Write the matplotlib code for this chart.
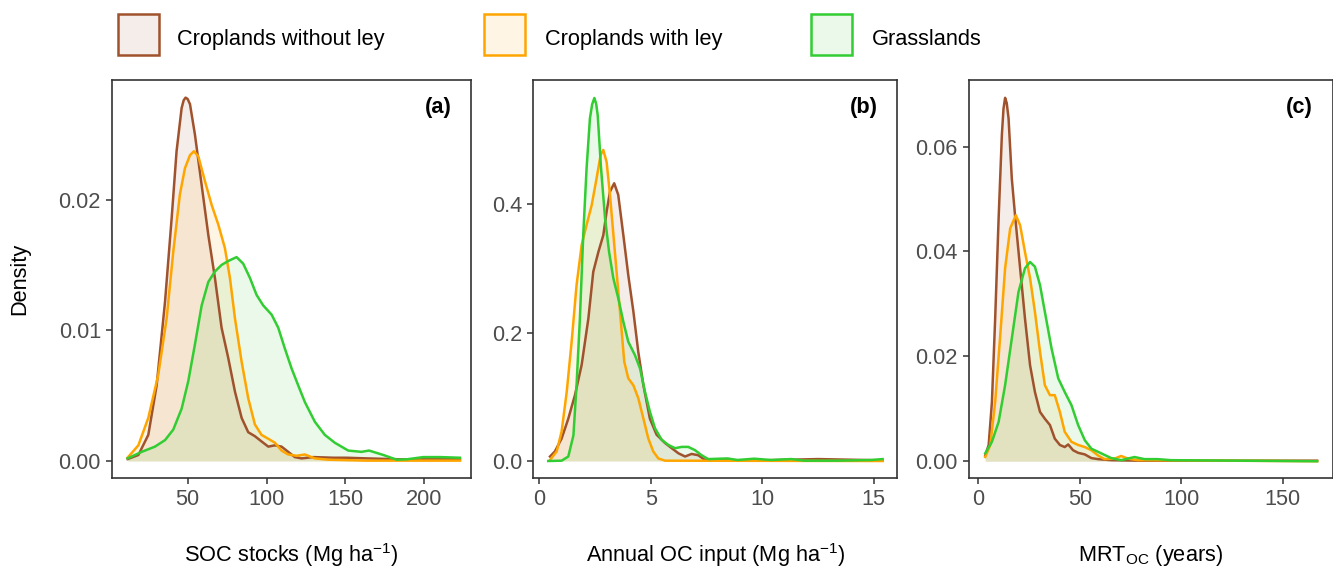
import matplotlib
matplotlib.use('Agg')
import matplotlib.pyplot as plt
from matplotlib.patches import Rectangle

plt.rcParams['font.family'] = ['Liberation Sans', 'DejaVu Sans']
plt.rcParams['mathtext.default'] = 'regular'

groups = ['Croplands without ley', 'Croplands with ley', 'Grasslands']
colors = ['#A0522D', '#FFA500', '#32CD32']

# (a) SOC stocks, density curves
soc_x_noley = [12, 18.8, 25.1, 30.4, 35.7, 39.9, 43.0, 46.2, 47.5, 48.7, 50.0, 51.5, 54.6, 58.9,
               63.1, 67.3, 71.5, 75.7, 80.0, 84.2, 88.4, 92.6, 96.8, 101.1, 105.3, 109.5, 113.7,
               117.9, 122.2, 129.6, 142.3, 150.7, 163.4, 184.5, 222.5]
soc_y_noley = [0.00015, 0.00046, 0.002, 0.0058, 0.0122, 0.0186, 0.0237, 0.0270, 0.0276, 0.0278,
               0.0277, 0.0273, 0.0250, 0.0211, 0.0173, 0.0140, 0.0102, 0.0079, 0.0053, 0.0033,
               0.0022, 0.0019, 0.0015, 0.0011, 0.0012, 0.0011, 0.0007, 0.0003, 0.0002, 0.0003,
               0.00025, 0.00025, 0.0002, 0.00013, 0.00013]
soc_x_ley = [12, 18.8, 25.1, 31.4, 36.7, 40.9, 45.1, 48.3, 51.5, 54.0, 56.8, 61.0, 65.2, 69.4,
             73.6, 76.8, 80.0, 84.2, 88.4, 92.6, 96.8, 101.1, 105.3, 109.5, 113.7, 119.0, 124.3,
             130.6, 139.0, 163.4, 222.5]
soc_y_ley = [0.00026, 0.0012, 0.0033, 0.0066, 0.0109, 0.0160, 0.0204, 0.0224, 0.0234, 0.0237,
             0.0233, 0.0214, 0.0196, 0.0181, 0.0163, 0.0140, 0.0109, 0.0076, 0.0048, 0.0028,
             0.0020, 0.0017, 0.0014, 0.0008, 0.0005, 0.0004, 0.0005, 0.0002, 0.0001, 0.00003,
             0.00003]
soc_x_grass = [12, 20.9, 29.3, 35.7, 40.9, 46.2, 50.4, 54.6, 58.9, 63.1, 67.3, 71.5, 75.7, 81.0,
               85.2, 89.5, 93.7, 97.9, 103.2, 107.4, 111.6, 115.8, 120.0, 124.3, 130.6, 136.9,
               143.2, 151.7, 160.1, 164.9, 174.0, 182.4, 188.8, 199.3, 209.9, 222.5]
soc_y_grass = [0.0002, 0.0007, 0.0011, 0.0016, 0.0024, 0.0040, 0.0061, 0.0089, 0.0119, 0.0137,
               0.0145, 0.0150, 0.0153, 0.0156, 0.0151, 0.0140, 0.0127, 0.0119, 0.0112, 0.0102,
               0.0086, 0.0071, 0.0058, 0.0045, 0.0030, 0.0020, 0.0014, 0.0008, 0.0007, 0.0008,
               0.00046, 0.0001, 0.00013, 0.0003, 0.0003, 0.00025]

# (b) Annual OC input
oc_x_noley = [0.48, 0.70, 1.0, 1.30, 1.60, 1.90, 2.20, 2.42, 2.65, 2.87, 3.02, 3.17, 3.36, 3.54,
              3.77, 3.99, 4.22, 4.44, 4.67, 4.96, 5.26, 5.64, 5.94, 6.24, 6.54, 6.83, 7.13, 7.43,
              8.5, 10.0, 12.5, 15.4]
oc_y_noley = [0.007, 0.015, 0.035, 0.066, 0.103, 0.150, 0.222, 0.295, 0.326, 0.352, 0.389, 0.420,
              0.433, 0.415, 0.352, 0.290, 0.233, 0.170, 0.118, 0.066, 0.041, 0.028, 0.020, 0.012,
              0.007, 0.011, 0.009, 0.0016, 0.001, 0.001, 0.003, 0.001]
oc_x_ley = [0.48, 0.78, 1.0, 1.23, 1.45, 1.67, 1.90, 2.12, 2.35, 2.57, 2.75, 2.87, 3.02, 3.17,
            3.39, 3.62, 3.81, 3.99, 4.22, 4.44, 4.67, 4.89, 5.11, 5.34, 5.64, 15.4]
oc_y_ley = [0.0016, 0.015, 0.046, 0.108, 0.186, 0.274, 0.337, 0.368, 0.399, 0.441, 0.477, 0.485,
            0.466, 0.415, 0.326, 0.233, 0.155, 0.129, 0.118, 0.098, 0.066, 0.035, 0.015, 0.004,
            0.0005, 0.0]
oc_x_grass = [0.40, 1.0, 1.30, 1.53, 1.67, 1.82, 1.97, 2.12, 2.27, 2.37, 2.47, 2.55, 2.62, 2.77,
              2.95, 3.13, 3.32, 3.54, 3.77, 3.99, 4.29, 4.52, 4.74, 4.96, 5.19, 5.49, 5.79, 6.09,
              6.39, 6.68, 6.98, 7.28, 7.58, 8.44, 8.89, 9.64, 10.4, 11.3, 11.9, 13.4, 14.9, 15.4]
oc_y_grass = [0.0, 0.0005, 0.007, 0.04, 0.118, 0.222, 0.352, 0.456, 0.534, 0.556, 0.566, 0.557,
              0.539, 0.456, 0.378, 0.326, 0.285, 0.254, 0.217, 0.186, 0.165, 0.144, 0.108, 0.077,
              0.051, 0.033, 0.025, 0.020, 0.022, 0.022, 0.017, 0.009, 0.003, 0.004, 0.0016,
              0.0036, 0.0016, 0.003, 0.0005, 0.0005, 0.0016, 0.003]

# (c) MRT_OC
mrt_x_noley = [3.4, 5.1, 6.7, 8.3, 10.0, 11.6, 12.4, 13.2, 14.0, 14.9, 16.5, 18.1, 20.6, 23.0,
               25.5, 27.9, 30.4, 32.8, 35.3, 37.7, 40.2, 42.6, 44.3, 46.7, 49.2, 52.5, 55.7,
               59.0, 65.5, 80.0, 167]
mrt_y_noley = [0.0011, 0.0031, 0.0113, 0.0272, 0.0463, 0.0622, 0.0672, 0.0693, 0.0683, 0.0654,
               0.0539, 0.0469, 0.0368, 0.0272, 0.0183, 0.0132, 0.0094, 0.0081, 0.0069, 0.0043,
               0.0031, 0.0027, 0.0032, 0.0021, 0.0016, 0.0013, 0.0006, 0.0004, 0.0002, 0.0001,
               0.0001]
mrt_x_ley = [3.4, 5.9, 8.3, 10.8, 13.2, 15.7, 18.5, 20.6, 23.0, 25.5, 27.9, 30.4, 32.8, 35.3,
             37.7, 40.2, 42.6, 45.9, 49.2, 52.5, 55.7, 59.0, 62.3, 67.2, 70.4, 73.7, 78.6, 167]
mrt_y_ley = [0.0008, 0.0031, 0.0113, 0.0240, 0.0368, 0.0444, 0.0469, 0.0450, 0.0399, 0.0349,
             0.0285, 0.0209, 0.0145, 0.0126, 0.0126, 0.0094, 0.0056, 0.0037, 0.0031, 0.0027,
             0.0021, 0.0011, 0.0004, 0.0005, 0.0010, 0.0005, 0.0002, 0.0]
mrt_x_grass = [3.4, 6.7, 10.0, 13.2, 16.5, 19.8, 23.0, 25.5, 27.9, 30.4, 32.8, 36.1, 39.4, 42.6,
               45.9, 49.2, 52.5, 55.7, 60.6, 65.5, 70.4, 77.0, 81.9, 88.4, 94.9, 167]
mrt_y_grass = [0.0015, 0.0037, 0.0075, 0.0145, 0.0234, 0.0323, 0.0368, 0.0380, 0.0371, 0.0336,
               0.0285, 0.0215, 0.0158, 0.0132, 0.0107, 0.0069, 0.0040, 0.0024, 0.0015, 0.0006,
               0.0002, 0.0008, 0.0004, 0.0004, 0.0002, 0.0]

panels = [
    ('(a)', r'SOC stocks (Mg ha$^{-1}$)',
     [(soc_x_noley, soc_y_noley), (soc_x_ley, soc_y_ley), (soc_x_grass, soc_y_grass)],
     (2.1, 229.5), (-0.0013, 0.02915), [50, 100, 150, 200], [0.0, 0.01, 0.02], '{:.2f}'),
    ('(b)', r'Annual OC input (Mg ha$^{-1}$)',
     [(oc_x_noley, oc_y_noley), (oc_x_ley, oc_y_ley), (oc_x_grass, oc_y_grass)],
     (-0.27, 16.06), (-0.0265, 0.594), [0, 5, 10, 15], [0.0, 0.2, 0.4], '{:.1f}'),
    ('(c)', r'MRT$_{OC}$ (years)',
     [(mrt_x_noley, mrt_y_noley), (mrt_x_ley, mrt_y_ley), (mrt_x_grass, mrt_y_grass)],
     (-4.6, 174.6), (-0.0032, 0.0727), [0, 50, 100, 150], [0.0, 0.02, 0.04, 0.06], '{:.2f}'),
]

W, H = 1333, 569
fig = plt.figure(figsize=(W / 100, H / 100), dpi=100)

boxes = [(112, 471), (533.3, 897.3), (969, 1332.5)]
top_px, bot_px = 80, 478

for (tag, xlabel, curves, xlim, ylim, xt, yt, fmt), (l, r) in zip(panels, boxes):
    ax = fig.add_axes([l / W, (H - bot_px) / H, (r - l) / W, (bot_px - top_px) / H])
    for (x, y), c in zip(curves, colors):
        ax.fill_between(x, y, 0, color=c, alpha=0.1, lw=0)
        ax.plot(x, y, color=c, lw=1.8, solid_joinstyle='round')
    ax.set_xlim(*xlim)
    ax.set_ylim(*ylim)
    ax.set_xticks(xt)
    ax.set_yticks(yt)
    ax.set_yticklabels([fmt.format(v) for v in yt])
    ax.tick_params(length=4, width=1.1, color='#333333', labelsize=15.7,
                   labelcolor='#4D4D4D', pad=4)
    for s in ax.spines.values():
        s.set_color('#333333')
        s.set_linewidth(1.2)
    ax.set_xlabel(xlabel, fontsize=15.7, va='center')
    ax.xaxis.set_label_coords(0.5, (bot_px - 555) / (bot_px - top_px))
    ax.text(0.946, 0.931, tag, transform=ax.transAxes, ha='right', va='center',
            fontsize=15.7, fontweight='bold')
    if tag == '(a)':
        ax.set_ylabel('Density', fontsize=15.7, va='center')
        ax.yaxis.set_label_coords((20 - l) / (r - l), 0.5)

# legend across the top
key_x = [118.3, 484, 810.7]
text_x = [176.7, 545, 871.7]
for g, c, kx, tx in zip(groups, colors, key_x, text_x):
    fig.patches.append(Rectangle((kx / W, (H - 55) / H), 41 / W, 41 / H,
                                 transform=fig.transFigure, facecolor=c, alpha=0.1,
                                 edgecolor='none'))
    fig.patches.append(Rectangle((kx / W, (H - 55) / H), 41 / W, 41 / H,
                                 transform=fig.transFigure, facecolor='none',
                                 edgecolor=c, lw=1.8))
    fig.text(tx / W, (H - 45) / H, g, fontsize=15.7, va='baseline', color='black')

fig.savefig('out.png', dpi=100)
